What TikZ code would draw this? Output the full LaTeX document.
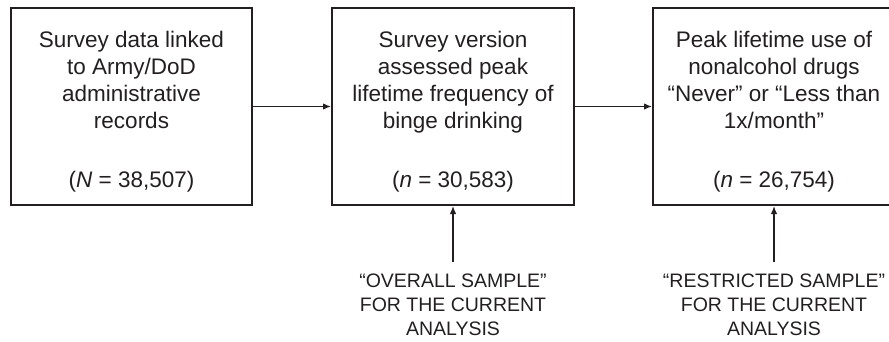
\documentclass[tikz,border=0pt]{standalone}
\usepackage{fontspec}
\setmainfont{Liberation Sans}
\usetikzlibrary{arrows.meta}

\definecolor{inkgray}{RGB}{35,31,32}
\newcommand{\topstrut}{\rule{0pt}{26pt}}

\tikzset{
    stagebox/.style={draw=inkgray, line width=2pt, minimum width=241pt, minimum height=197pt,
        align=center, text=inkgray, font=\fontsize{22.5}{27}\selectfont},
    samplelabel/.style={align=center, text=inkgray, inner sep=0pt, outer sep=12pt,
        font=\fontsize{19.5}{24}\selectfont},
    flow/.style={draw=inkgray, line width=1.3pt, -{Latex[length=8pt,width=6.5pt]}}
}

\begin{document}
\begin{tikzpicture}[x=1pt, y=-1pt]
    \useasboundingbox (0,0) rectangle (889,341);

    \node[stagebox] (linked) at (131.5,106.5)
        {\topstrut Survey data linked\\ to Army/DoD\\ administrative\\ records\\[32pt] (\textit{N} = 38,507)};
    \node[stagebox, minimum width=242pt] (binge) at (453,106.5)
        {\topstrut Survey version\\ assessed peak\\ lifetime frequency of\\ binge drinking\\[32pt] (\textit{n} = 30,583)};
    \node[stagebox, minimum width=242pt] (drugs) at (774,106.5)
        {\topstrut Peak lifetime use of\\ nonalcohol drugs\\ “Never” or “Less than\\ 1x/month”\\[32pt] (\textit{n} = 26,754)};

    \node[samplelabel, anchor=north] (overall) at (453,262)
        {“OVERALL SAMPLE”\\ FOR THE CURRENT\\ ANALYSIS};
    \node[samplelabel, anchor=north] (restricted) at (774,262)
        {“RESTRICTED SAMPLE”\\ FOR THE CURRENT\\ ANALYSIS};

    \draw[flow] (linked) -- (binge);
    \draw[flow] (binge) -- (drugs);
    \draw[flow] (overall) -- (binge);
    \draw[flow] (restricted) -- (drugs);
\end{tikzpicture}
\end{document}
